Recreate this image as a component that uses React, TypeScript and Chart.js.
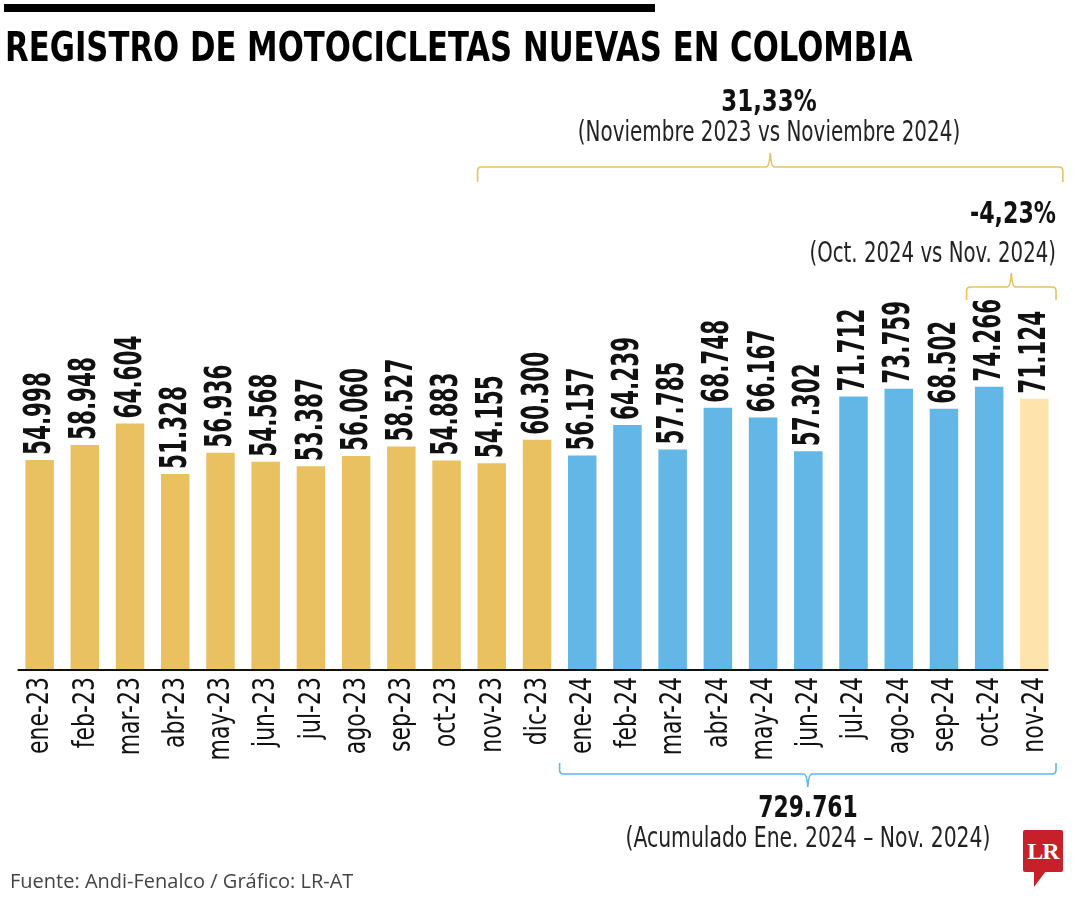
import React, { useEffect, useRef } from "react";
import { Chart, registerables } from "chart.js";

Chart.register(...registerables);

const categories = [
  "ene-23", "feb-23", "mar-23", "abr-23", "may-23", "jun-23", "jul-23", "ago-23", "sep-23", "oct-23", "nov-23", "dic-23",
  "ene-24", "feb-24", "mar-24", "abr-24", "may-24", "jun-24", "jul-24", "ago-24", "sep-24", "oct-24", "nov-24",
];
const registros = [
  54998, 58948, 64604, 51328, 56936, 54568, 53387, 56060, 58527, 54883, 54155, 60300,
  56157, 64239, 57785, 68748, 66167, 57302, 71712, 73759, 68502, 74266, 71124,
];
const titulo = "REGISTRO DE MOTOCICLETAS NUEVAS EN COLOMBIA";
const anual = { valor: "31,33%", texto: "(Noviembre 2023 vs Noviembre 2024)" };
const mensual = { valor: "-4,23%", texto: "(Oct. 2024 vs Nov. 2024)" };
const acumulado = { valor: "729.761", texto: "(Acumulado Ene. 2024 – Nov. 2024)" };
const fuente = "Fuente: Andi-Fenalco / Gráfico: LR-AT";

const GOLD = "#E9C160";
const BLUE = "#62B7E7";
const LIGHT = "#FDE4AC";
const NARROW = '"Liberation Sans Narrow", "DejaVu Sans Condensed", "DejaVu Sans", sans-serif';

function fmt(v: number) {
  const miles = Math.floor(v / 1000);
  const resto = String(v % 1000).padStart(3, "0");
  return miles + "." + resto;
}

function brace(ctx: CanvasRenderingContext2D, x1: number, x2: number, xm: number, yLine: number, dir: number, endLen: number, cusp: number, color: string) {
  const r = 4;
  ctx.save();
  ctx.strokeStyle = color;
  ctx.lineWidth = 1.6;
  ctx.beginPath();
  ctx.moveTo(x1, yLine + dir * endLen);
  ctx.lineTo(x1, yLine + dir * r);
  ctx.quadraticCurveTo(x1, yLine, x1 + r, yLine);
  ctx.lineTo(xm - 4, yLine);
  ctx.quadraticCurveTo(xm - 1, yLine, xm, yLine - dir * cusp);
  ctx.quadraticCurveTo(xm + 1, yLine, xm + 4, yLine);
  ctx.lineTo(x2 - r, yLine);
  ctx.quadraticCurveTo(x2, yLine, x2, yLine + dir * r);
  ctx.lineTo(x2, yLine + dir * endLen);
  ctx.stroke();
  ctx.restore();
}

const decoPlugin = {
  id: "deco",
  afterDatasetsDraw(chart: any) {
    const ctx: CanvasRenderingContext2D = chart.ctx;
    const meta = chart.getDatasetMeta(0);
    const xs = chart.scales.x;
    const area = chart.chartArea;
    // value labels (condensed along reading direction)
    ctx.save();
    ctx.fillStyle = "#111";
    ctx.font = `bold 37px ${NARROW}`;
    const vScale = 83 / ctx.measureText("54.998").width;
    ctx.textAlign = "left";
    ctx.textBaseline = "middle";
    meta.data.forEach((bar: any, i: number) => {
      ctx.save();
      ctx.translate(bar.x + 1, bar.y - 5);
      ctx.rotate(-Math.PI / 2);
      ctx.scale(vScale, 1);
      ctx.fillText(fmt(registros[i]), 0, 0);
      ctx.restore();
    });
    ctx.restore();
    // category tick labels, placed by the x scale
    ctx.save();
    ctx.fillStyle = "#111";
    ctx.font = `30px ${NARROW}`;
    const tScale = 77 / ctx.measureText("ene-23").width;
    ctx.textAlign = "right";
    ctx.textBaseline = "middle";
    (chart.data.labels as string[]).forEach((lab: string, i: number) => {
      ctx.save();
      ctx.translate(xs.getPixelForValue(i) + 1, area.bottom + 8);
      ctx.rotate(-Math.PI / 2);
      ctx.scale(tScale, 1);
      ctx.fillText(lab, 0, 0);
      ctx.restore();
    });
    ctx.restore();
    // axis line
    const first = meta.data[0];
    const last = meta.data[meta.data.length - 1];
    ctx.save();
    ctx.strokeStyle = "#111";
    ctx.lineWidth = 2;
    ctx.beginPath();
    ctx.moveTo(first.x - 22, area.bottom + 1);
    ctx.lineTo(last.x + 14, area.bottom + 1);
    ctx.stroke();
    ctx.restore();
    // braces
    const n = categories.length;
    const half = (xs.getPixelForValue(1) - xs.getPixelForValue(0)) / 2;
    const pNov23 = xs.getPixelForValue(10);
    const pNov24 = xs.getPixelForValue(n - 1);
    const pOct24 = xs.getPixelForValue(n - 2);
    const pEne24 = xs.getPixelForValue(12);
    const bw = first.width;
    const gx1 = pNov23 - bw / 2;
    const gx2 = pNov24 + bw;
    brace(ctx, gx1, gx2, (gx1 + gx2) / 2, 167, 1, 15, 14, GOLD);
    const sx1 = pOct24 - half;
    const sx2 = pNov24 + half - 1;
    brace(ctx, sx1, sx2, (sx1 + sx2) / 2, 287, 1, 13, 14, GOLD);
    const bx1 = pEne24 - half;
    const bx2 = pNov24 + half - 1;
    brace(ctx, bx1, bx2, (bx1 + bx2) / 2, 774, -1, 11, 13, BLUE);
  },
};

function BarChart() {
  const ref = useRef<HTMLCanvasElement | null>(null);
  useEffect(() => {
    if (!ref.current) return;
    const last = registros.length - 1;
    const chart = new Chart(ref.current, {
      type: "bar",
      data: {
        labels: categories,
        datasets: [
          {
            data: registros,
            backgroundColor: (c: any) => (c.dataIndex === last ? LIGHT : c.dataIndex < 12 ? GOLD : BLUE),
            barPercentage: 0.63,
            categoryPercentage: 1,
          },
        ],
      },
      options: {
        responsive: false,
        animation: false,
        layout: { padding: { left: 17, right: 23, top: 289, bottom: 0 } },
        plugins: { legend: { display: false }, tooltip: { enabled: false }, title: { display: false } },
        scales: {
          y: { display: false, min: 0, max: 100000 },
          x: {
            grid: { display: false, drawTicks: false },
            border: { display: false },
            afterFit: (s: any) => {
              s.height = 231;
            },
            ticks: { display: false, autoSkip: false },
          },
        },
      },
      plugins: [decoPlugin],
    });
    return () => chart.destroy();
  }, []);
  return <canvas ref={ref} width={1080} height={900} style={{ position: "absolute", left: 0, top: 0 }} />;
}

export default function App() {
  const txt = (extra: React.CSSProperties): React.CSSProperties => ({
    position: "absolute",
    fontFamily: NARROW,
    color: "#111",
    whiteSpace: "nowrap",
    lineHeight: 1,
    ...extra,
  });
  return (
    <div style={{ position: "fixed", left: 0, top: 0, width: 1080, height: 900, background: "#fff", overflow: "hidden" }}>
      <BarChart />
      <div style={{ position: "absolute", left: 4, top: 4, width: 651, height: 8, background: "#000" }} />
      <div style={txt({ left: 5, top: 27, fontSize: 40, fontWeight: 700, color: "#000", transform: "scaleX(0.854)", transformOrigin: "left center" })}>{titulo}</div>
      <div style={txt({ left: 569, width: 400, top: 86, fontSize: 30, fontWeight: 700, textAlign: "center", transform: "scaleX(0.85)" })}>{anual.valor}</div>
      <div style={txt({ left: 469, width: 600, top: 117, fontSize: 29, textAlign: "center", color: "#222", transform: "scaleX(0.765)" })}>{anual.texto}</div>
      <div style={txt({ left: 656, width: 400, top: 198, fontSize: 30, fontWeight: 700, textAlign: "right", transform: "scaleX(0.82)", transformOrigin: "right center" })}>{mensual.valor}</div>
      <div style={txt({ left: 456, width: 600, top: 238, fontSize: 29, textAlign: "right", color: "#222", transform: "scaleX(0.757)", transformOrigin: "right center" })}>{mensual.texto}</div>
      <div style={txt({ left: 608, width: 400, top: 792, fontSize: 30, fontWeight: 700, textAlign: "center", transform: "scaleX(0.81)" })}>{acumulado.valor}</div>
      <div style={txt({ left: 508, width: 600, top: 823, fontSize: 29, textAlign: "center", color: "#222", transform: "scaleX(0.78)" })}>{acumulado.texto}</div>
      <div style={{ position: "absolute", left: 10, top: 871, fontFamily: '"Open Sans", sans-serif', fontSize: 20, color: "#444", whiteSpace: "nowrap", lineHeight: 1 }}>{fuente}</div>
      <div style={{ position: "absolute", left: 1023, top: 830, width: 40, height: 42, background: "#C8202A", borderRadius: 2, color: "#fff", fontFamily: '"Liberation Serif", serif', fontWeight: 700, fontSize: 24, lineHeight: "42px", textAlign: "center", letterSpacing: -1 }}>LR</div>
      <div style={{ position: "absolute", left: 1034, top: 871, width: 0, height: 0, borderTop: "16px solid #C8202A", borderRight: "12px solid transparent" }} />
    </div>
  );
}
